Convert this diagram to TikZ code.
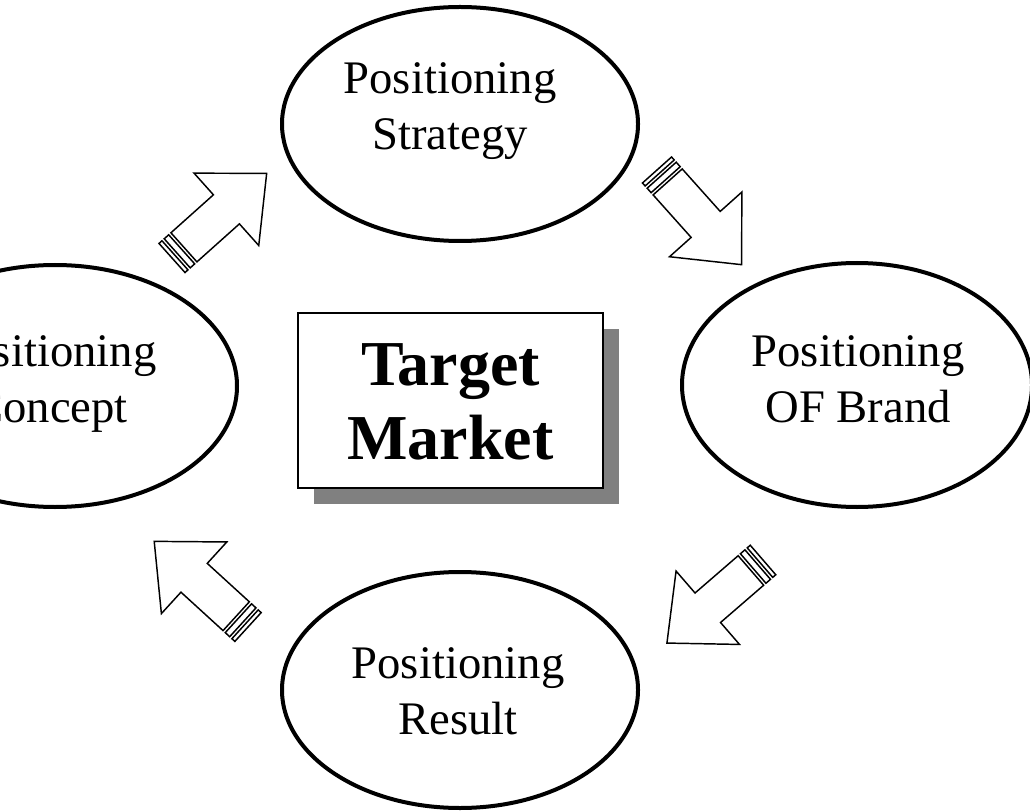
\documentclass[tikz,border=0pt]{standalone}
\usepackage{fontspec}
\setmainfont{Liberation Serif}
\usetikzlibrary{shapes.geometric}
\definecolor{shadowgray}{HTML}{808080}
\tikzset{
  ell/.style={ellipse, draw=black, line width=3pt, inner sep=0pt, fill=white},
  lbl/.style={align=center, inner sep=0pt, font=\fontsize{35}{42}\selectfont},
  tbox/.style={rectangle, draw=black, line width=1.2pt, fill=white, inner sep=0pt,
               minimum width=228.75pt, minimum height=131.25pt},
  shadowbox/.style={rectangle, fill=shadowgray, inner sep=0pt,
               minimum width=228.75pt, minimum height=131.25pt},
  tlbl/.style={align=center, inner sep=0pt, font=\bfseries\fontsize{48}{56}\selectfont},
  arrowline/.style={draw=black, line width=1.1pt, fill=white, line join=miter},
  stripearrow/.pic={
    \path[arrowline] (0,-19.5) rectangle (4,19.5);
    \path[arrowline] (7,-19.5) rectangle (13,19.5);
    \path[arrowline] (16,-19.5) -- (73,-19.5) -- (73,-48.5) -- (127,0)
       -- (73,48.5) -- (73,19.5) -- (16,19.5) -- cycle;
  }
}
\begin{document}
\begin{tikzpicture}[x=0.75pt, y=-0.75pt]
  \useasboundingbox (0,0) rectangle (1030,812);
  \clip (0,0) rectangle (1030,812);
  \fill[white] (0,0) rectangle (1030,812);

  % ellipses
  \node[ell, minimum width=267pt, minimum height=175.5pt] (strategy) at (460,124) {};
  \node[ell, minimum width=273pt, minimum height=181.5pt] (concept) at (55,386) {};
  \node[ell, minimum width=262.5pt, minimum height=183pt] (brand) at (857,385) {};
  \node[ell, minimum width=267pt, minimum height=177pt] (result) at (460,690) {};

  % ellipse texts
  \node[lbl] (tstrategy) at (450,110) {\vphantom{lg}Positioning\\Strategy\vphantom{lg}};
  \node[lbl] (tconcept) at (50,383) {\vphantom{lg}Positioning\\Concept\vphantom{lg}};
  \node[lbl] (tbrand) at (858,383) {\vphantom{lg}Positioning\\OF Brand\vphantom{lg}};
  \node[lbl] (tresult) at (458,695) {\vphantom{lg}Positioning\\Result\vphantom{lg}};

  % centre box with shadow
  \node[shadowbox] (shadow) at (466.5,416.5) {};
  \node[tbox] (target) at (450.5,400.5) {};
  \node[tlbl] (ttarget) at (450.5,407.5) {\vphantom{lg}Target\\Market\vphantom{lg}};

  % striped block arrows
  \pic[rotate=-48.2] at (657,170) {stripearrow};
  \pic[rotate=41.8] at (172,258) {stripearrow};
  \pic[rotate=220.85] at (763,560) {stripearrow};
  \pic[rotate=137.6] at (248,627) {stripearrow};
\end{tikzpicture}
\end{document}
